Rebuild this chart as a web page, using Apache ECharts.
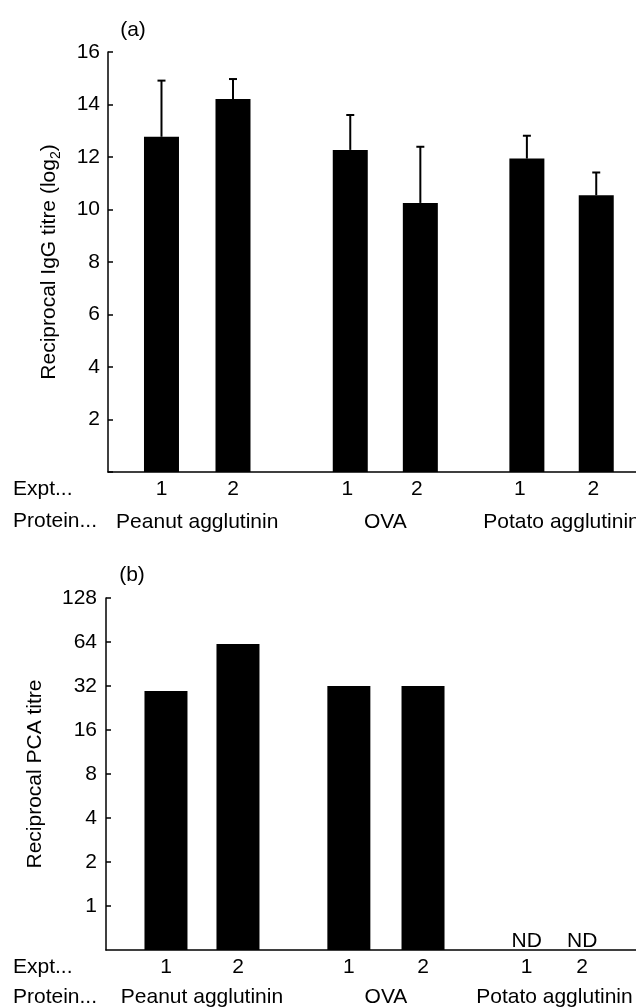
<!DOCTYPE html>
<html><head><meta charset="utf-8">
<script src="https://cdn.jsdelivr.net/npm/echarts@6/dist/echarts.min.js"></script>
<style>html,body{margin:0;padding:0;background:#fff}#c{width:636px;height:1008px}</style>
</head><body><div id="c"></div>
<script>
// ---- shared categories ----
const proteins = ['Peanut agglutinin', 'OVA', 'Potato agglutinin'];
const expts = ['1', '2', '1', '2', '1', '2'];

// ---- panel (a): reciprocal IgG titre (log2), mean + upper error ----
const posA = [1, 2, 3.64, 4.62, 6.11, 7.08];          // bar slots
const exptLabelPosA = [1, 2, 3.6, 4.57, 6.01, 7.04];  // "1"/"2" label slots
const iggMean = [12.77, 14.21, 12.27, 10.25, 11.94, 10.54];
const iggErr = [2.14, 0.76, 1.33, 2.14, 0.87, 0.87];
const yTicksA = [2, 4, 6, 8, 10, 12, 14, 16];

// ---- panel (b): reciprocal PCA titre (log scale) ----
const posB = [1, 2, 3.54, 4.57, 6.01, 6.78];
const pcaTitre = [29.6, 62, 32, 32, null, null];
const ndLabels = ['', '', '', '', 'ND', 'ND'];
const yTicksB = [1, 2, 4, 8, 16, 32, 64, 128];

const FONT = '"Liberation Sans", Arial, Helvetica, sans-serif';
const FS = 21;

const pairCentres = pos => [0, 1, 2].map(g => (pos[2 * g] + pos[2 * g + 1]) / 2);

function nearestLabel(arr, labels, v) {
  let best = 0, d = Infinity;
  arr.forEach((a, i) => { if (Math.abs(a - v) < d) { d = Math.abs(a - v); best = i; } });
  return labels[best];
}

function textRow(gridIdx, xs, labels, yVal, dy, name) {
  return {
    type: 'custom', name: name, xAxisIndex: gridIdx, yAxisIndex: gridIdx, clip: false, silent: true,
    data: xs.map(x => [x, yVal]),
    renderItem: (params, api) => {
      const p = api.coord([api.value(0), yVal]);
      return { type: 'text', x: p[0], y: p[1] + dy,
        style: { text: labels[params.dataIndex], fill: '#000', font: FS + 'px ' + FONT, align: 'center', verticalAlign: 'middle' } };
    }
  };
}

const chart = echarts.init(document.getElementById('c'), null, { renderer: 'canvas' });

const baseX = (min, max, labelPos) => ({
  type: 'value', min: min, max: max,
  axisLine: { show: true, onZero: false, lineStyle: { color: '#000', width: 1.5 } },
  axisTick: { show: false }, splitLine: { show: false },
  axisLabel: { customValues: labelPos, margin: 7, color: '#000', fontSize: FS, fontFamily: FONT,
    formatter: v => nearestLabel(labelPos, expts, v) }
});

const option = {
  backgroundColor: '#fff',
  animation: false,
  grid: [
    { left: 108, top: 52, width: 528, height: 420 },
    { left: 106, top: 598, width: 530, height: 352 }
  ],
  xAxis: [
    Object.assign(baseX(0.252, 7.636, exptLabelPosA), { gridIndex: 0 }),
    Object.assign(baseX(0.167, 7.528, posB), { gridIndex: 1 })
  ],
  yAxis: [
    { gridIndex: 0, type: 'value', min: 0, max: 16, interval: 2,
      name: '{a|Reciprocal IgG titre (log}{s|2}{a|)}', nameLocation: 'middle', nameGap: 45, nameRotate: 90,
      nameTextStyle: { rich: {
        a: { fontSize: FS, fontFamily: FONT, color: '#000', lineHeight: 28, verticalAlign: 'middle' },
        s: { fontSize: 14, fontFamily: FONT, color: '#000', lineHeight: 14, verticalAlign: 'bottom' } } },
      axisLine: { show: true, lineStyle: { color: '#000', width: 1.5 } },
      axisTick: { show: true, inside: true, length: 5, lineStyle: { color: '#000', width: 1.5 } },
      splitLine: { show: false },
      axisLabel: { margin: 8, color: '#000', fontSize: FS, fontFamily: FONT,
        formatter: v => (yTicksA.indexOf(v) >= 0 ? String(v) : '') } },
    { gridIndex: 1, type: 'log', logBase: 2, min: 0.5, max: 128,
      name: 'Reciprocal PCA titre', nameLocation: 'middle', nameGap: 60, nameRotate: 90,
      nameTextStyle: { fontSize: FS, fontFamily: FONT, color: '#000' },
      axisLine: { show: true, lineStyle: { color: '#000', width: 1.5 } },
      axisTick: { show: true, inside: true, length: 5, customValues: yTicksB, lineStyle: { color: '#000', width: 1.5 } },
      splitLine: { show: false },
      axisLabel: { margin: 9, color: '#000', fontSize: FS, fontFamily: FONT, customValues: yTicksB,
        formatter: v => String(Math.round(v)) } }
  ],
  graphic: [
    { type: 'text', x: 133, y: 30, style: { text: '(a)', font: FS + 'px ' + FONT, fill: '#000', align: 'center', verticalAlign: 'middle' } },
    { type: 'text', x: 132, y: 575, style: { text: '(b)', font: FS + 'px ' + FONT, fill: '#000', align: 'center', verticalAlign: 'middle' } },
    { type: 'text', x: 13, y: 489, style: { text: 'Expt...', font: FS + 'px ' + FONT, fill: '#000', align: 'left', verticalAlign: 'middle' } },
    { type: 'text', x: 13, y: 521, style: { text: 'Protein...', font: FS + 'px ' + FONT, fill: '#000', align: 'left', verticalAlign: 'middle' } },
    { type: 'text', x: 13, y: 967, style: { text: 'Expt...', font: FS + 'px ' + FONT, fill: '#000', align: 'left', verticalAlign: 'middle' } },
    { type: 'text', x: 13, y: 997, style: { text: 'Protein...', font: FS + 'px ' + FONT, fill: '#000', align: 'left', verticalAlign: 'middle' } }
  ],
  series: [
    { type: 'bar', name: 'IgG', xAxisIndex: 0, yAxisIndex: 0, barWidth: 35,
      itemStyle: { color: '#000' },
      data: posA.map((x, i) => [x, iggMean[i]]) },
    { type: 'custom', name: 'IgG error', xAxisIndex: 0, yAxisIndex: 0, z: 5,
      data: posA.map((x, i) => [x, iggMean[i], iggMean[i] + iggErr[i]]),
      renderItem: (params, api) => {
        const p0 = api.coord([api.value(0), api.value(1)]);
        const p1 = api.coord([api.value(0), api.value(2)]);
        const st = { stroke: '#000', lineWidth: 2 };
        return { type: 'group', children: [
          { type: 'line', shape: { x1: p0[0], y1: p0[1], x2: p1[0], y2: p1[1] }, style: st },
          { type: 'line', shape: { x1: p1[0] - 4, y1: p1[1], x2: p1[0] + 4, y2: p1[1] }, style: st }
        ] };
      } },
    { type: 'custom', name: 'PCA', xAxisIndex: 1, yAxisIndex: 1,
      data: posB.map((x, i) => [x, pcaTitre[i]]).filter(d => d[1] != null),
      renderItem: (params, api) => {
        const base = api.coord([api.value(0), 0.5]);
        const top = api.coord([api.value(0), api.value(1)]);
        const w = 43;
        return { type: 'rect', shape: { x: top[0] - w / 2, y: top[1], width: w, height: base[1] - top[1] },
          style: { fill: '#000' } };
      } },
    textRow(1, posB, ndLabels, 0.5, -9, 'ND'),
    textRow(0, pairCentres(posA), proteins, 0, 50, 'proteinA'),
    textRow(1, pairCentres(posB), proteins, 0.5, 47, 'proteinB')
  ]
};
chart.setOption(option);
</script></body></html>
